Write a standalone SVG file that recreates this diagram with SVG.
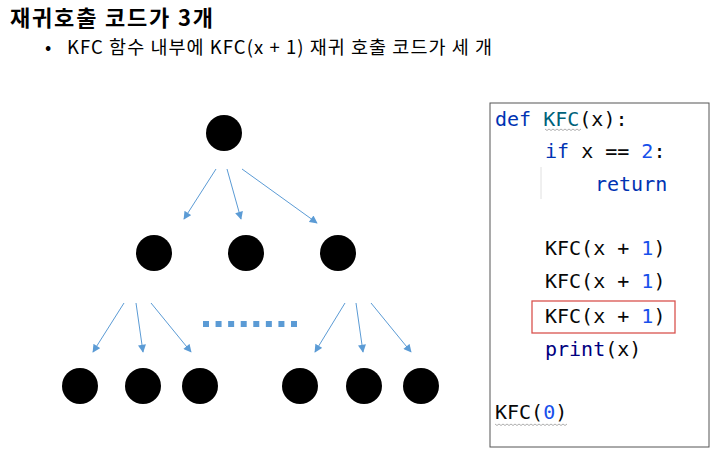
<svg xmlns="http://www.w3.org/2000/svg" width="718" height="456" viewBox="0 0 718 456">
<style>
.node{fill:#000}
.edge{stroke:#5B9BD5;stroke-width:1;fill:none;marker-end:url(#ah)}
.code{font-family:"DejaVu Sans Mono","Liberation Mono",monospace;font-size:20px;fill:#080808}
.kw{fill:#0033B3}
.num{fill:#1750EB}
.fn{fill:#00627A}
.bi{fill:#000080}
.kr{font-family:"Noto Sans CJK KR","Noto Sans",sans-serif;fill:#000}
.wavy{stroke:#9a9a9a;stroke-width:0.8;fill:none}
</style>
<defs>
<marker id="ah" viewBox="0 0 10 10" refX="9" refY="5" markerWidth="9" markerHeight="8" markerUnits="userSpaceOnUse" orient="auto">
<path d="M0,0 L10,5 L0,10 z" fill="#5B9BD5"/>
</marker>
</defs>
<rect width="718" height="456" fill="#fff"/>
<text class="kr" x="10" y="26" font-size="22" font-weight="bold" textLength="203">재귀호출 코드가 3개</text>
<text class="kr" x="45" y="53.5" font-size="18.5">•</text>
<text class="kr" x="67" y="53.5" font-size="18.5" textLength="425">KFC 함수 내부에 KFC(x + 1) 재귀 호출 코드가 세 개</text>

<g id="connectors">
<line class="edge" x1="216" y1="169" x2="184" y2="219"/>
<line class="edge" x1="227" y1="169" x2="241" y2="219"/>
<line class="edge" x1="242" y1="169" x2="317" y2="223"/>
<line class="edge" x1="124" y1="303" x2="93" y2="352"/>
<line class="edge" x1="136" y1="303" x2="143" y2="352"/>
<line class="edge" x1="151" y1="303" x2="191" y2="352"/>
<line class="edge" x1="345" y1="303" x2="315" y2="352"/>
<line class="edge" x1="356" y1="303" x2="363" y2="352"/>
<line class="edge" x1="371" y1="303" x2="411" y2="352"/>
</g>
<line id="ellipsis" x1="203" y1="324" x2="297" y2="324" stroke="#5B9BD5" stroke-width="6" stroke-dasharray="6 6.57"/>

<g id="n0"><circle class="node" cx="224" cy="133" r="18"/></g>
<g id="n1"><circle class="node" cx="154" cy="253" r="18"/></g>
<g id="n2"><circle class="node" cx="246" cy="253" r="18"/></g>
<g id="n3"><circle class="node" cx="338" cy="253" r="18"/></g>
<g id="n4"><circle class="node" cx="80" cy="386" r="18"/></g>
<g id="n5"><circle class="node" cx="143" cy="386" r="18"/></g>
<g id="n6"><circle class="node" cx="200" cy="386" r="18"/></g>
<g id="n7"><circle class="node" cx="300" cy="386" r="18"/></g>
<g id="n8"><circle class="node" cx="364" cy="386" r="18"/></g>
<g id="n9"><circle class="node" cx="421" cy="386" r="18"/></g>

<g id="code">
<rect x="490" y="103" width="219" height="344" fill="#fff" stroke="#555" stroke-width="1"/>
<line x1="541" y1="167" x2="541" y2="199" stroke="#e0e0e0" stroke-width="1"/>
<text class="code" x="495" y="126"><tspan class="kw">def</tspan> <tspan class="fn">KFC</tspan>(x):</text>
<path class="wavy" d="M545,129 l2,1.5 l2,-1.5 l2,1.5 l2,-1.5 l2,1.5 l2,-1.5 l2,1.5 l2,-1.5 l2,1.5 l2,-1.5 l2,1.5 l2,-1.5 l2,1.5 l2,-1.5 l2,1.5 l2,-1.5 l2,1.5 l2,-1.5"/>
<text class="code" x="545" y="158"><tspan class="kw">if</tspan> x == <tspan class="num">2</tspan>:</text>
<text class="code" x="595" y="191"><tspan class="kw">return</tspan></text>
<text class="code" x="545" y="255">KFC(x + <tspan class="num">1</tspan>)</text>
<text class="code" x="545" y="288">KFC(x + <tspan class="num">1</tspan>)</text>
<text class="code" x="545" y="323">KFC(x + <tspan class="num">1</tspan>)</text>
<rect x="532" y="301" width="143" height="32" fill="none" stroke="#D9534F" stroke-width="1.3"/>
<text class="code" x="545" y="356"><tspan class="bi">print</tspan>(x)</text>
<text class="code" x="495" y="419">KFC(<tspan class="num">0</tspan>)</text>
<path class="wavy" d="M495,424 l2,1.5 l2,-1.5 l2,1.5 l2,-1.5 l2,1.5 l2,-1.5 l2,1.5 l2,-1.5 l2,1.5 l2,-1.5 l2,1.5 l2,-1.5 l2,1.5 l2,-1.5 l2,1.5 l2,-1.5 l2,1.5 l2,-1.5 l2,1.5 l2,-1.5 l2,1.5 l2,-1.5 l2,1.5 l2,-1.5 l2,1.5 l2,-1.5 l2,1.5 l2,-1.5 l2,1.5 l2,-1.5 l2,1.5 l2,-1.5 l2,1.5 l2,-1.5 l2,1.5 l2,-1.5"/>
</g>
</svg>
